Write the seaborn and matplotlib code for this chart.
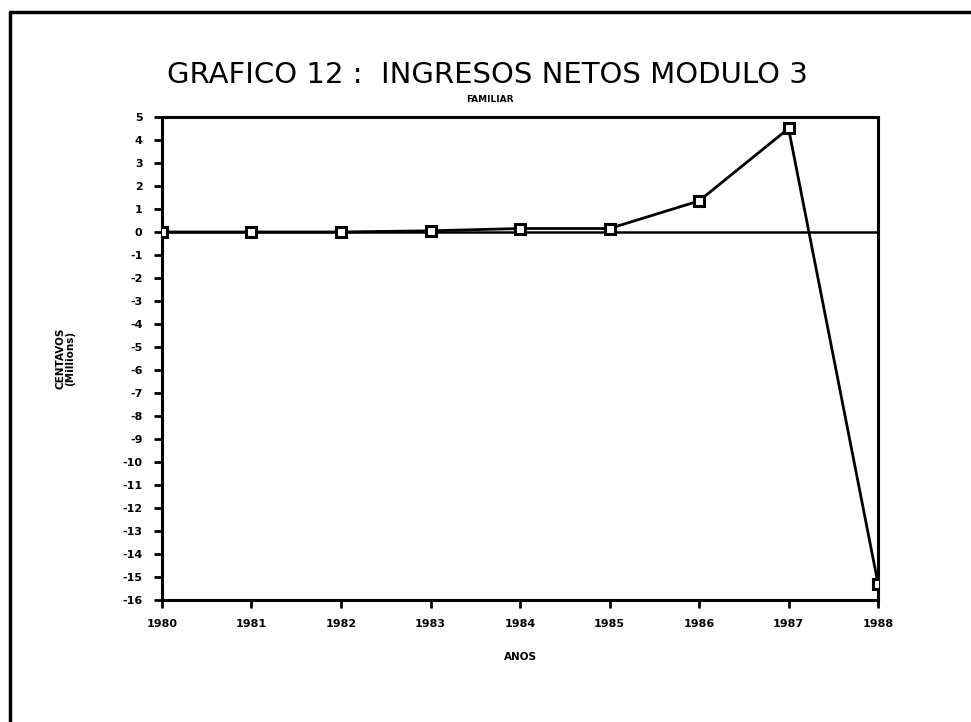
import numpy as np
import pandas as pd
import matplotlib
matplotlib.use("Agg")
import matplotlib.pyplot as plt
import seaborn as sns
from matplotlib.lines import Line2D

# values
years = [1980, 1981, 1982, 1983, 1984, 1985, 1986, 1987, 1988]
ingresos = [0.0, 0.0, 0.0, 0.05, 0.15, 0.15, 1.35, 4.5, -15.3]
y_ticks = list(range(5, -17, -1))

df = pd.DataFrame({"anio": years, "ingreso": ingresos})

sns.set_style("ticks")
plt.rcParams["font.family"] = ["DejaVu Sans"]
plt.rcParams.update({"text.color": "black", "axes.labelcolor": "black",
                     "xtick.color": "black", "ytick.color": "black",
                     "axes.edgecolor": "black"})

fig = plt.figure(figsize=(9.71, 7.22), dpi=100)
ax = fig.add_axes([0.1668, 0.169, 0.7375, 0.669])

ax.axhline(0, color="black", lw=1.8, zorder=1)
sns.lineplot(data=df, x="anio", y="ingreso", ax=ax, color="black", lw=2.0,
             marker="s", markersize=7, markerfacecolor="white",
             markeredgecolor="black", markeredgewidth=2.2, zorder=3)

ax.set_xlim(years[0], years[-1])
ax.set_ylim(-16, 5)
ax.set_xticks(years)
ax.set_xticklabels([str(y) for y in years], fontsize=8, fontweight="bold")
ax.set_yticks(y_ticks)
ax.set_yticklabels([str(t) for t in y_ticks], fontsize=8, fontweight="bold")
ax.tick_params(axis="both", width=2, length=6, pad=8)
for s in ax.spines.values():
    s.set_linewidth(2.2)

ax.set_xlabel("ANOS", fontsize=7.5, fontweight="bold", labelpad=16)
ax.set_ylabel("CENTAVOS\n(Millions)", fontsize=7.5, fontweight="bold",
              labelpad=34, linespacing=1.0)

fig.text(0.502, 0.896, "GRAFICO 12 :  INGRESOS NETOS MODULO 3",
         ha="center", va="center", fontsize=21)
fig.text(0.505, 0.862, "FAMILIAR", ha="center", va="center",
         fontsize=6.5, fontweight="bold")

# outer frame of the page (left and top edges only)
fig.add_artist(Line2D([0.0105, 0.0105], [0.0, 0.983], color="black", lw=2.5,
                      transform=fig.transFigure))
fig.add_artist(Line2D([0.0105, 1.0], [0.983, 0.983], color="black", lw=2.5,
                      transform=fig.transFigure))

fig.savefig("out.png", dpi=100)
